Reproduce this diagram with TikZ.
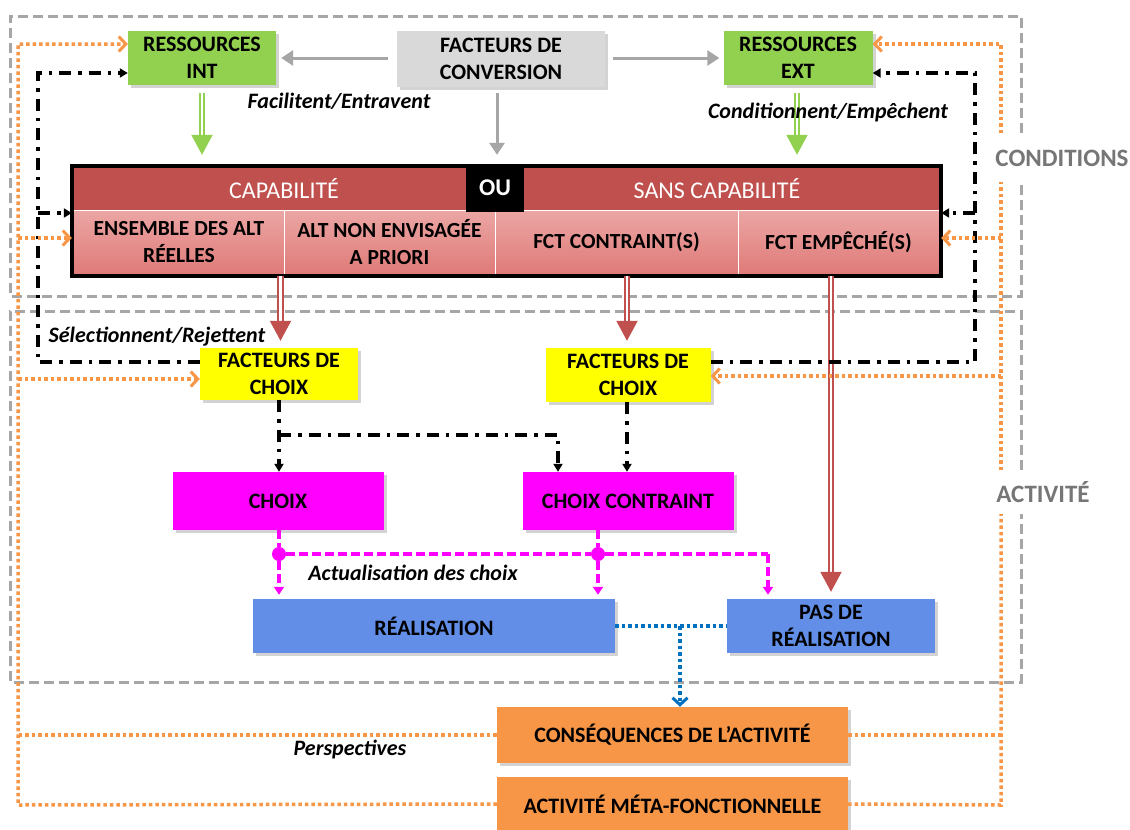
\documentclass[tikz,border=0pt]{standalone}
\usepackage{fontspec}
\setmainfont{Carlito}
\usetikzlibrary{arrows.meta,shadows,calc}
\definecolor{grn}{HTML}{92D050}
\definecolor{gry}{HTML}{D9D9D9}
\definecolor{dred}{HTML}{C0504D}
\definecolor{cellT}{HTML}{EBA6A4}
\definecolor{cellB}{HTML}{DF7B79}
\definecolor{ylw}{HTML}{FFFF00}
\definecolor{mag}{HTML}{FF00FF}
\definecolor{blu}{HTML}{628EE8}
\definecolor{org}{HTML}{F79646}
\definecolor{dgray}{HTML}{A6A6A6}
\definecolor{bdot}{HTML}{0070C0}
\definecolor{lbl}{HTML}{767676}
\begin{document}
\begin{tikzpicture}[x=1pt,y=-1pt,
  box/.style={inner sep=0pt, align=center, font=\bfseries\fontsize{22}{27}\selectfont,
    drop shadow={shadow xshift=3pt,shadow yshift=-3pt,opacity=0.35}},
  cell/.style={inner sep=0pt, align=center, top color=cellT, bottom color=cellB,
    font=\bfseries\fontsize{21.5}{27}\selectfont},
  toptxt/.style={inner sep=0pt, text=white, font=\fontsize{24}{27}\selectfont},
  grayarrow/.style={draw=dgray, line width=3pt, -{Triangle[length=12pt,width=15pt]}},
  dblarrow/.style={draw=#1, double=white, double distance=2.5pt, line width=2pt,
    -{Triangle[length=20pt,width=21pt]}},
  dashdot/.style={draw=black, line width=3.5pt, dash pattern=on 12pt off 7pt on 3.5pt off 7pt},
  blacktip/.style={-{Triangle[length=8pt,width=9pt]}},
  orangedot/.style={draw=org, line width=3.5pt, dash pattern=on 3.5pt off 3pt},
  orangetip/.style={-{Straight Barb[length=7pt,width=15pt,line width=3pt]}},
  magdash/.style={draw=mag, line width=3.2pt, dash pattern=on 9pt off 4pt},
  magtip/.style={-{Triangle[length=8pt,width=10pt]}},
  bluedot/.style={draw=bdot, line width=3.5pt, dash pattern=on 3.5pt off 3pt},
  bluetip/.style={-{Straight Barb[length=7pt,width=15pt,line width=3pt]}},
  zone/.style={draw=dgray, line width=3pt, dash pattern=on 10pt off 5pt},
  zonelbl/.style={inner sep=0pt, text=lbl, font=\bfseries\fontsize{25}{28}\selectfont},
  itlbl/.style={inner sep=0pt, font=\bfseries\itshape\fontsize{22}{25}\selectfont},
  dot/.style={circle, fill=mag, inner sep=0pt, minimum size=14pt}
]
\useasboundingbox (0,0) rectangle (1130,830);

% zones
\draw[zone] (1021,133) -- (1021,16) -- (10,16) -- (10,296) -- (1021,296) -- (1021,181);
\node[zonelbl] (lcond) at (1062,158) {CONDITIONS};
\draw[zone] (1021,470) -- (1021,311) -- (10,311) -- (10,682) -- (1021,682) -- (1021,514);
\node[zonelbl] (lact) at (1043,492) {ACTIVITÉ};

% top nodes
\node[box, fill=grn, minimum width=148pt, minimum height=54pt] (rint) at (202,58) {RESSOURCES\\INT};
\node[box, fill=gry, minimum width=208pt, minimum height=56pt] (conv) at (501,59) {FACTEURS DE\\CONVERSION};
\node[box, fill=grn, minimum width=149pt, minimum height=54pt] (rext) at (798,58) {RESSOURCES\\EXT};

% capability block
\node[fill=white, minimum width=869pt, minimum height=110pt, inner sep=0pt,
  drop shadow={shadow xshift=2pt,shadow yshift=-2pt,opacity=0.3}] (capab) at (506.5,221) {};
\fill[dred] (74,168) rectangle (939,210);
\node[toptxt] (tcap) at (284,189) {CAPABILITÉ};
\node[toptxt] (tsans) at (717,189) {SANS CAPABILITÉ};
\node[cell, minimum width=210pt, minimum height=64pt] (c1) at (179,242) {ENSEMBLE DES ALT\\RÉELLES};
\node[cell, minimum width=211pt, minimum height=64pt] (c2) at (389.5,242) {ALT NON ENVISAGÉE\\A PRIORI};
\node[cell, minimum width=243pt, minimum height=64pt] (c3) at (616.5,242) {FCT CONTRAINT(S)};
\node[cell, minimum width=201pt, minimum height=64pt] (c4) at (838.5,242) {FCT EMPÊCHÉ(S)};
\draw[white, line width=1pt] (74,210) -- (939,210);
\draw[white, line width=1pt] (c1.north east) -- (c1.south east);
\draw[white, line width=1pt] (c2.north east) -- (c2.south east);
\draw[white, line width=1pt] (c3.north east) -- (c3.south east);
\draw[black, line width=4pt] (72,166) rectangle (941,276);
\node[fill=black, text=white, inner sep=0pt, minimum width=58pt, minimum height=47pt,
  font=\bfseries\fontsize{24}{26}\selectfont] (ou) at (495,188) {OU};

% choice factors etc.
\node[box, fill=ylw, minimum width=158pt, minimum height=52pt] (fc1) at (279,374) {FACTEURS DE\\CHOIX};
\node[box, fill=ylw, minimum width=165pt, minimum height=54pt] (fc2) at (628,375) {FACTEURS DE\\CHOIX};
\node[box, fill=mag, minimum width=211pt, minimum height=58pt] (choix) at (278,501) {CHOIX};
\node[box, fill=mag, minimum width=211pt, minimum height=58pt] (cc) at (628,501) {CHOIX CONTRAINT};
\node[box, fill=blu, minimum width=362pt, minimum height=54pt] (real) at (434,626) {RÉALISATION};
\node[box, fill=blu, minimum width=208pt, minimum height=54pt] (pas) at (831,626) {PAS DE\\RÉALISATION};
\node[box, fill=org, minimum width=351pt, minimum height=56pt] (conseq) at (672.5,735) {CONSÉQUENCES DE L’ACTIVITÉ};
\node[box, fill=org, minimum width=351pt, minimum height=54pt] (meta) at (672.5,804) {ACTIVITÉ MÉTA-FONCTIONNELLE};

% gray arrows
\draw[grayarrow, shorten <=9pt, shorten >=5pt] (conv.west |- rint.east) -- (rint.east);
\draw[grayarrow, shorten <=8pt, shorten >=4pt] (conv.east |- rext.west) -- (rext.west);
\draw[grayarrow, shorten <=6pt, shorten >=11pt] ([xshift=-4pt]conv.south) -- ([xshift=-4pt]conv.south |- capab.north);

% green double arrows
\draw[dblarrow=grn, shorten <=8pt, shorten >=11pt] (rint.south) -- (rint.south |- capab.north);
\draw[dblarrow=grn, shorten <=8pt, shorten >=11pt] ([xshift=-1pt]rext.south) -- ([xshift=-1pt]rext.south |- capab.north);

% red double arrows
\draw[dblarrow=dred, shorten >=7pt] ([xshift=1.5pt]fc1.north |- capab.south) -- ([xshift=1.5pt]fc1.north);
\draw[dblarrow=dred, shorten >=7pt] ([xshift=-1pt]fc2.north |- capab.south) -- ([xshift=-1pt]fc2.north);
\draw[dblarrow=dred, shorten >=7pt] (pas.north |- capab.south) -- (pas.north);

% labels
\node[itlbl] (lfac) at (339,101) {Facilitent/Entravent};
\node[itlbl] (lcnd) at (828,113) {Conditionnent/Empêchent};
\node[itlbl] (lsel) at (157,337) {Sélectionnent/Rejettent};
\node[itlbl] (lact2) at (413,573) {Actualisation des choix};
\node[itlbl] (lper) at (350,749) {Perspectives};

% black dash-dot feedback
\coordinate (kl) at (38,362);
\coordinate (kr) at (975,362);
\draw[dashdot, blacktip] (fc1.west |- kl) -- (kl) -- (38,73) -- (rint.west |- 0,73);
\draw[dashdot, blacktip] (38,213) -- (capab.west |- 0,213);
\draw[dashdot, blacktip] (fc2.east |- kr) -- (kr) -- (975,73) -- (rext.east |- 0,73);
\draw[dashdot, blacktip] (975,213) -- (capab.east |- 0,213);
\coordinate (br) at (558,435);
\draw[dashdot, blacktip] (fc1.south) -- (fc1.south |- choix.north);
\draw[dashdot, blacktip] (fc1.south |- br) -- (br) -- (br |- cc.north);
\draw[dashdot, blacktip] ([xshift=-1pt]fc2.south) -- ([xshift=-1pt]fc2.south |- cc.north);

% magenta actualisation
\node[dot] (d1) at (279,554) {};
\node[dot] (d2) at (598,554) {};
\coordinate (mr) at (768,554);
\draw[magdash] (choix.south -| d1) -- (d1);
\draw[magdash] (cc.south -| d2) -- (d2);
\draw[magdash] (d1) -- (d2) -- (mr);
\draw[magdash, magtip, shorten >=4pt] (d1) -- (d1 |- real.north);
\draw[magdash, magtip, shorten >=4pt] (d2) -- (d2 |- real.north);
\draw[magdash, magtip, shorten >=4pt] (mr) -- (mr |- pas.north);

% blue dotted
\coordinate (bj) at (680,626);
\draw[bluedot] (real.east) -- (pas.west);
\draw[bluedot, bluetip] (bj) -- (bj |- conseq.north);

% orange feedback
\draw[orangedot] (conseq.west) -- (18,735);
\draw[orangedot, orangetip] (meta.west) -- (18,805) -- (18,44) -- (rint.west |- 0,44);
\draw[orangedot, orangetip] (18,238) -- (capab.west |- 0,238);
\draw[orangedot, orangetip] (18,379) -- (fc1.west |- 0,379);
\draw[orangedot] (conseq.east) -- (1001,735);
\draw[orangedot] (meta.east) -- (1001,805) -- (1001,514);
\draw[orangedot] (1001,470) -- (1001,182);
\draw[orangedot, orangetip] (1001,133) -- (1001,44) -- (rext.east |- 0,44);
\draw[orangedot, orangetip] (1001,238) -- (capab.east |- 0,238);
\draw[orangedot, orangetip] (1001,376) -- (fc2.east |- 0,376);
\end{tikzpicture}
\end{document}
